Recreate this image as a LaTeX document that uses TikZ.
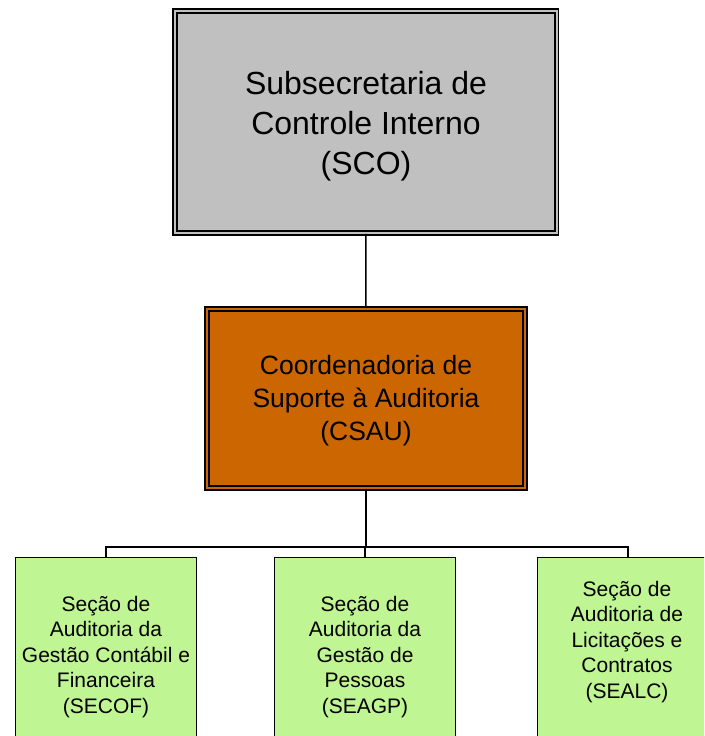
\documentclass[tikz,border=0pt]{standalone}
\usepackage{fontspec}
\setmainfont{Liberation Sans}
\definecolor{scogray}{RGB}{192,192,192}
\definecolor{csauorange}{RGB}{204,102,0}
\definecolor{secgreen}{RGB}{192,245,148}
\begin{document}
\begin{tikzpicture}[x=1pt,y=-1pt,
  dblbox/.style={draw=black, double distance=2pt, line width=1.8pt, inner sep=0pt},
  scobox/.style={dblbox, fill=scogray, double=scogray, minimum width=381.5pt, minimum height=222pt},
  csaubox/.style={dblbox, fill=csauorange, double=csauorange, minimum width=318pt, minimum height=179pt},
  scotext/.style={align=center, inner sep=0pt, font=\fontsize{32}{40}\selectfont},
  csautext/.style={align=center, inner sep=0pt, font=\fontsize{26.5}{33}\selectfont},
  secbox/.style={draw=black, line width=1.5pt, fill=secgreen, minimum width=181pt, minimum height=200pt, inner sep=0pt},
  sectext/.style={align=center, font=\fontsize{21}{25.5}\selectfont, inner sep=0pt},
  conn/.style={draw=black, line width=1.5pt}]
\useasboundingbox (0,0) rectangle (704,736);
\clip (0,0) rectangle (704,736);
\fill[white] (0,0) rectangle (704,736);
\node[scobox] (sco) at (365.75,122) {};
\node[scotext] (scot) at (366,126) {Subsecretaria de\\Controle Interno\\(SCO)};
\node[csaubox] (csau) at (366,398.5) {};
\node[csautext] (csaut) at (366,401) {Coordenadoria de\\Suporte à Auditoria\\(CSAU)};
\node[secbox] (secof) at (106,657.5) {};
\node[secbox] (seagp) at (365,657.5) {};
\node[secbox] (sealc) at (628,657.5) {};
\node[sectext] (secoft) at (106,657) {Seção de\\Auditoria da\\Gestão Contábil e\\Financeira\\(SECOF)};
\node[sectext] (seagpt) at (365,657) {Seção de\\Auditoria da\\Gestão de\\Pessoas\\(SEAGP)};
\node[sectext] (sealct) at (627,642) {Seção de\\Auditoria de\\Licitações e\\Contratos\\(SEALC)};
\draw[conn] (sco.south) -- (csau.north);
\draw[conn, line width=2.2pt] (csau.south) -- ++(0,58) coordinate (busc);
\draw[conn] (secof.north) |- (busc) -| (sealc.north);
\draw[conn] (seagp.north) -- (seagp.north |- busc);
\end{tikzpicture}
\end{document}
